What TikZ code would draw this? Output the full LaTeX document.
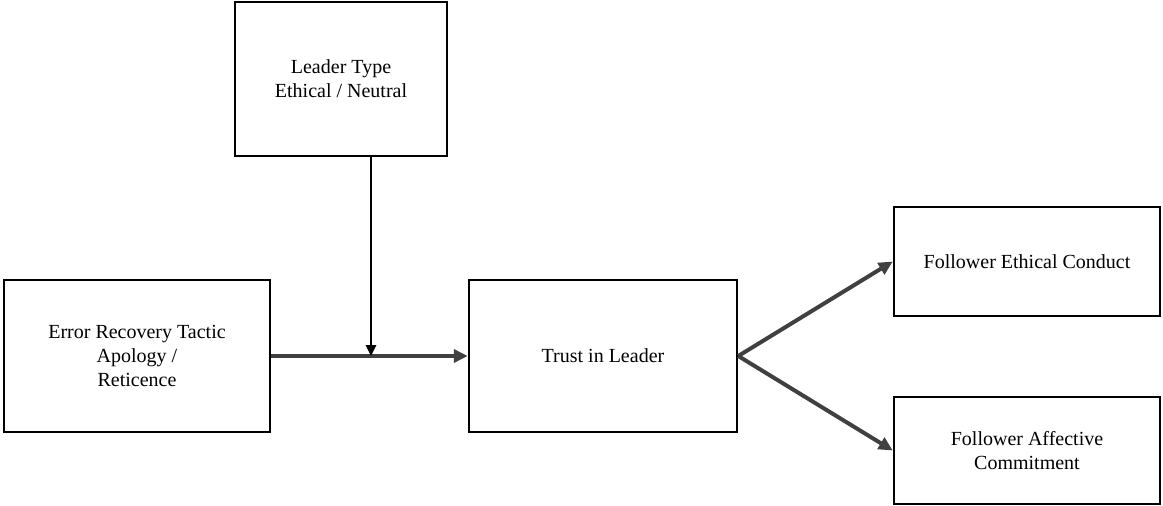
\documentclass[tikz,border=0pt]{standalone}
\usepackage{fontspec}
\setmainfont{LiberationSerif}[Extension=.ttf,UprightFont=*-Regular,BoldFont=*-Bold]
\usetikzlibrary{arrows.meta}
\begin{document}
\begin{tikzpicture}[x=1pt,y=-1pt,
	box/.style={draw=black,line width=2.5pt,align=center,inner sep=0pt,font=\rmfamily\fontsize{20}{24}\selectfont},
	link/.style={draw=black!75,line width=4pt,-{Triangle[length=14pt,width=13pt]}}]
	\pgfmathsetmacro{\jx}{371}
	\useasboundingbox (0,0) rectangle (1163,506);
	\node[box,minimum width=212pt,minimum height=154pt] (lead) at (341,79) {Leader Type\\Ethical / Neutral};
	\node[box,minimum width=266pt,minimum height=152pt] (err) at (137,356) {Error Recovery Tactic\\Apology /\\Reticence};
	\node[box,minimum width=268pt,minimum height=152pt] (trust) at (603,356) {Trust in Leader};
	\node[box,minimum width=266pt,minimum height=109pt] (cond) at (1027,261.5) {Follower Ethical Conduct};
	\node[box,minimum width=266pt,minimum height=107pt] (comm) at (1027,450.5) {Follower Affective\\Commitment};
	\coordinate (join) at (\jx,356);
	\draw[link] (err) -- (trust);
	\draw[draw=black,line width=2.5pt,-{Triangle[length=11pt,width=10pt]}] (lead.south -| join) -- (join);
	\draw[link] (trust.east) -- (cond.west);
	\draw[link] (trust.east) -- (comm.west);
\end{tikzpicture}
\end{document}
